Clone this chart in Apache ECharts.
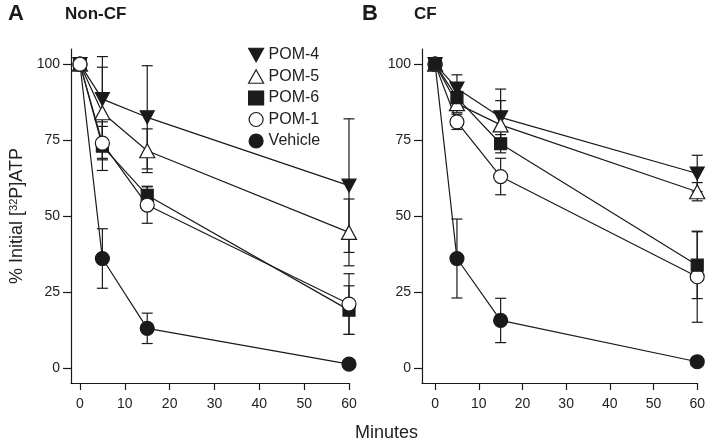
<!DOCTYPE html>
<html>
<head>
<meta charset="utf-8">
<script src="https://cdn.jsdelivr.net/npm/echarts@6/dist/echarts.min.js"></script>
<style>html,body{margin:0;padding:0;background:#fff}#c{width:708px;height:446px}</style>
</head>
<body>
<div id="c"></div>
<script>
// ---- data ----
const minutes = [0, 5, 15, 60];
const xTicks = [0, 10, 20, 30, 40, 50, 60];
const yTicks = [0, 25, 50, 75, 100];
const seriesNames = ['POM-4', 'POM-5', 'POM-6', 'POM-1', 'Vehicle'];

// Panel A: Non-CF
const nonCF_pom4 = [100, 88.5, 82.5, 60];
const nonCF_pom4_err = [0, 14, 17, 22];
const nonCF_pom5 = [100, 84, 71.5, 44.6];
const nonCF_pom5_err = [0, 15, 7.2, 11];
const nonCF_pom6 = [100, 73, 56.8, 19];
const nonCF_pom6_err = [0, 8, 3, 8];
const nonCF_pom1 = [100, 74, 53.6, 21];
const nonCF_pom1_err = [0, 5.5, 6, 10];
const nonCF_vehicle = [100, 36, 13, 1.2];
const nonCF_vehicle_err = [0, 9.8, 5, 0];

// Panel B: CF
const cf_pom4 = [100, 92, 82.5, 64];
const cf_pom4_err = [0, 4.5, 9.3, 6];
const cf_pom5 = [100, 87, 80, 58];
const cf_pom5_err = [0, 3, 8, 3];
const cf_pom6 = [100, 89, 73.8, 33.8];
const cf_pom6_err = [0, 4, 3, 11];
const cf_pom1 = [100, 81, 63, 30];
const cf_pom1_err = [0, 2.5, 6, 15];
const cf_vehicle = [100, 36, 15.6, 2];
const cf_vehicle_err = [0, 13, 7.3, 0];

// ---- styles ----
const FONT = 'Liberation Sans, Arial, Helvetica, sans-serif';
const INK = '#1a1a1a';
const downTri = 'path://M0,0 L10,0 L5,9 Z';
const upTri = 'path://M5,0 L10,9 L0,9 Z';
const styles = {
  'POM-4': {symbol: downTri, size: [14, 13], fill: INK},
  'POM-5': {symbol: upTri, size: [15, 14], fill: '#fff'},
  'POM-6': {symbol: 'rect', size: 12, fill: INK},
  'POM-1': {symbol: 'circle', size: 14, fill: '#fff'},
  'Vehicle': {symbol: 'circle', size: 14, fill: INK}
};

const panels = [
  {vals: {'POM-4': nonCF_pom4, 'POM-5': nonCF_pom5, 'POM-6': nonCF_pom6, 'POM-1': nonCF_pom1, 'Vehicle': nonCF_vehicle},
   errs: {'POM-4': nonCF_pom4_err, 'POM-5': nonCF_pom5_err, 'POM-6': nonCF_pom6_err, 'POM-1': nonCF_pom1_err, 'Vehicle': nonCF_vehicle_err},
   order: ['Vehicle', 'POM-4', 'POM-5', 'POM-6', 'POM-1']},
  {vals: {'POM-4': cf_pom4, 'POM-5': cf_pom5, 'POM-6': cf_pom6, 'POM-1': cf_pom1, 'Vehicle': cf_vehicle},
   errs: {'POM-4': cf_pom4_err, 'POM-5': cf_pom5_err, 'POM-6': cf_pom6_err, 'POM-1': cf_pom1_err, 'Vehicle': cf_vehicle_err},
   order: ['Vehicle', 'POM-4', 'POM-5', 'POM-1', 'POM-6']}
];

function errRender(params, api) {
  const x = api.value(0), lo = api.value(1), hi = api.value(2);
  if (hi - lo <= 0) return null;
  const a = api.coord([x, lo]), b = api.coord([x, hi]);
  const w = 5.5;
  const st = {stroke: INK, lineWidth: 1.2};
  return {type: 'group', children: [
    {type: 'line', shape: {x1: a[0], y1: a[1], x2: b[0], y2: b[1]}, style: st},
    {type: 'line', shape: {x1: a[0] - w, y1: a[1], x2: a[0] + w, y2: a[1]}, style: st},
    {type: 'line', shape: {x1: b[0] - w, y1: b[1], x2: b[0] + w, y2: b[1]}, style: st}
  ]};
}

const grids = [
  {left: 71, right: 359, top: 49, bottom: 63},
  {left: 422, right: 8, top: 49, bottom: 63}
];
const xMins = [-2, -3];

const xAxes = grids.map((g, i) => ({
  type: 'value', gridIndex: i, min: xMins[i], max: 60,
  axisLine: {show: true, onZero: false, lineStyle: {color: INK, width: 1.2}},
  axisTick: {show: true, length: 7, customValues: xTicks, lineStyle: {color: INK, width: 1.2}},
  axisLabel: {customValues: xTicks, fontSize: 14, color: '#222', fontFamily: FONT, margin: 14},
  splitLine: {show: false}
}));
const yAxes = grids.map((g, i) => ({
  type: 'value', gridIndex: i, min: -5, max: 105,
  axisLine: {show: true, onZero: false, lineStyle: {color: INK, width: 1.2}},
  axisTick: {show: true, length: 8, customValues: yTicks, lineStyle: {color: INK, width: 1.2}},
  axisLabel: {customValues: yTicks, fontSize: 14, color: '#222', fontFamily: FONT, margin: 11},
  splitLine: {show: false},
  name: i === 0 ? '% Initial [{sup|32}P]ATP' : '',
  nameLocation: 'middle', nameGap: 44, nameRotate: 90,
  nameTextStyle: {fontSize: 18, color: '#222', fontFamily: FONT,
    rich: {sup: {fontSize: 11, verticalAlign: 'top', color: '#222', fontFamily: FONT, padding: [0, 0, 8, 0]}}}
}));

const series = [];
panels.forEach((p, i) => {
  p.order.forEach((name) => {
    const v = p.vals[name], e = p.errs[name];
    series.push({
      type: 'custom', name: name, xAxisIndex: i, yAxisIndex: i, z: 1,
      renderItem: errRender, encode: {x: 0, y: [1, 2]},
      data: minutes.map((m, k) => [m, v[k] - e[k], v[k] + e[k]]),
      silent: true
    });
  });
  p.order.forEach((name) => {
    const s = styles[name];
    series.push({
      type: 'line', name: name, xAxisIndex: i, yAxisIndex: i, z: 3,
      data: minutes.map((m, k) => [m, p.vals[name][k]]),
      symbol: s.symbol, symbolSize: s.size, showAllSymbol: true,
      lineStyle: {color: INK, width: 1.2},
      itemStyle: {color: s.fill, borderColor: INK, borderWidth: 1.2, opacity: 1},
      animation: false
    });
  });
});

const chart = echarts.init(document.getElementById('c'), null, {renderer: 'canvas'});
chart.setOption({
  animation: false,
  backgroundColor: '#fff',
  textStyle: {fontFamily: FONT},
  grid: grids,
  xAxis: xAxes,
  yAxis: yAxes,
  legend: {
    orient: 'vertical', left: 243, top: 42, itemWidth: 15, itemHeight: 14, itemGap: 5.5,
    selectedMode: false,
    data: seriesNames.map(n => ({name: n, icon: styles[n].symbol === 'rect' ? 'rect' : styles[n].symbol,
      itemStyle: {color: styles[n].fill, borderColor: INK, borderWidth: 1.2}})),
    textStyle: {fontSize: 16, color: '#222', fontFamily: FONT, padding: [0, 0, 0, 0]}
  },
  graphic: [
    {type: 'text', left: 8, top: 3, style: {text: 'A', font: 'bold 22px ' + FONT, fill: INK}},
    {type: 'text', left: 65, top: 6, style: {text: 'Non-CF', font: 'bold 17px ' + FONT, fill: INK}},
    {type: 'text', left: 362, top: 3, style: {text: 'B', font: 'bold 22px ' + FONT, fill: INK}},
    {type: 'text', left: 414, top: 6, style: {text: 'CF', font: 'bold 17px ' + FONT, fill: INK}},
    {type: 'text', left: 355, top: 424, style: {text: 'Minutes', font: '18px ' + FONT, fill: '#222'}}
  ],
  series: series
});
</script>
</body>
</html>
